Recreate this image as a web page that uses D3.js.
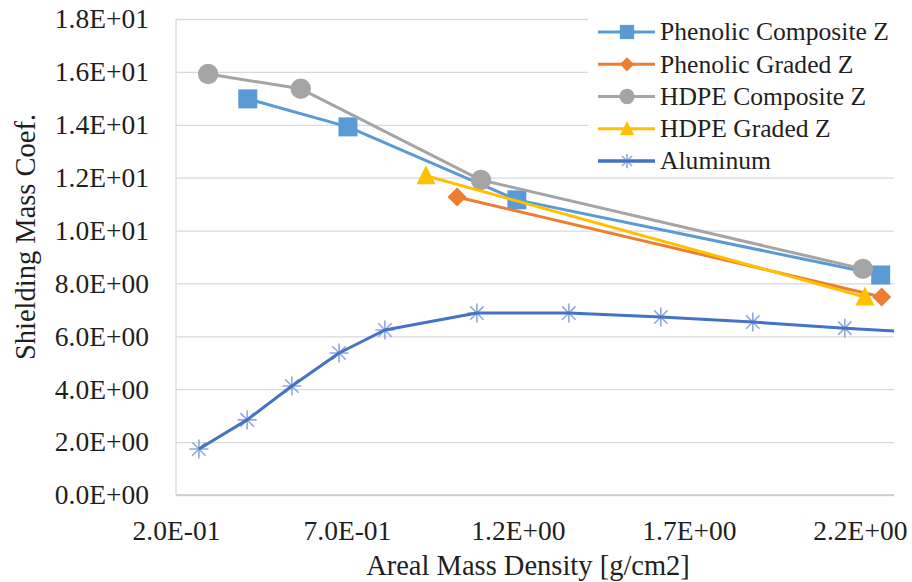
<!DOCTYPE html>
<html>
<head>
<meta charset="utf-8">
<script src="https://cdn.jsdelivr.net/npm/d3@7/dist/d3.min.js"></script>
<style>
  html, body { margin: 0; padding: 0; background: #fff; }
  svg { display: block; }
</style>
</head>
<body>
<svg id="chart" width="912" height="582"></svg>
<script>
// Tick values on both axes
const xTicks = [0.2, 0.7, 1.2, 1.7, 2.2];
const yTicks = [0, 2, 4, 6, 8, 10, 12, 14, 16, 18];

// Series data: areal mass density [g/cm2] and shielding mass coefficient
const phenolicCompositeX = [0.41, 0.703, 1.197, 2.261];
const phenolicCompositeY = [14.98, 13.92, 11.16, 8.32];

const phenolicGradedX = [1.022, 2.264];
const phenolicGradedY = [11.27, 7.49];

const hdpeCompositeX = [0.294, 0.565, 1.092, 2.209];
const hdpeCompositeY = [15.92, 15.36, 11.91, 8.55];

const hdpeGradedX = [0.931, 2.215];
const hdpeGradedY = [12.07, 7.49];

const aluminumX = [0.267, 0.408, 0.539, 0.677, 0.811, 1.08, 1.349, 1.618, 1.887, 2.156, 2.425];
const aluminumY = [1.74, 2.84, 4.12, 5.37, 6.24, 6.88, 6.88, 6.73, 6.54, 6.31, 6.10];

const seriesNames = ["Phenolic Composite Z", "Phenolic Graded Z", "HDPE Composite Z", "HDPE Graded Z", "Aluminum"];

const series = [
  { name: seriesNames[0], xs: phenolicCompositeX, ys: phenolicCompositeY, color: "#5B9BD5", marker: "square" },
  { name: seriesNames[1], xs: phenolicGradedX, ys: phenolicGradedY, color: "#ED7D31", marker: "diamond" },
  { name: seriesNames[2], xs: hdpeCompositeX, ys: hdpeCompositeY, color: "#A5A5A5", marker: "circle" },
  { name: seriesNames[3], xs: hdpeGradedX, ys: hdpeGradedY, color: "#FFC000", marker: "triangle" },
  { name: seriesNames[4], xs: aluminumX, ys: aluminumY, color: "#4472C4", marker: "star", markerColor: "#8FAADC" }
];

const FONT = "Liberation Serif";
const INK = "#1f1f1f";

const svg = d3.select("#chart");
const margin = { left: 176, right: 18, top: 19, bottom: 87 };
const W = 912, H = 582;
const plotW = W - margin.left - margin.right;
const plotH = H - margin.top - margin.bottom;

const x = d3.scaleLinear().domain([0.2, 2.3]).range([margin.left, margin.left + plotW]);
const y = d3.scaleLinear().domain([0, 18]).range([margin.top + plotH, margin.top]);

// Scientific labels in the form 1.8E+01
function sci(v) {
  const s = v.toExponential(1);
  const [m, e] = s.split("e");
  const n = parseInt(e, 10);
  const sign = n < 0 ? "-" : "+";
  return m + "E" + sign + String(Math.abs(n)).padStart(2, "0");
}

function styleText(sel, size) {
  sel.attr("font-family", FONT)
    .style("font-family", FONT)
    .style("font-size", size + "px")
    .attr("fill", INK);
}

// Horizontal gridlines
svg.append("g")
  .attr("transform", `translate(${margin.left},0)`)
  .call(d3.axisLeft(y).tickValues(yTicks).tickSize(-plotW).tickFormat(""))
  .call(g => g.select(".domain").remove())
  .call(g => g.selectAll("line").attr("stroke", "#D9D9D9").attr("stroke-width", 1.3));

// Left edge line
svg.append("line")
  .attr("x1", margin.left).attr("x2", margin.left)
  .attr("y1", y(18)).attr("y2", y(0))
  .attr("stroke", "#D9D9D9").attr("stroke-width", 1.3);

// Bottom axis line
svg.append("line")
  .attr("x1", margin.left).attr("x2", margin.left + plotW)
  .attr("y1", y(0)).attr("y2", y(0))
  .attr("stroke", "#C8C8C8").attr("stroke-width", 1.3);

// Y tick labels
const yAxis = svg.append("g")
  .attr("transform", `translate(${margin.left},0)`)
  .attr("font-family", FONT)
  .call(d3.axisLeft(y).tickValues(yTicks).tickSize(0).tickPadding(27).tickFormat(sci));
yAxis.select(".domain").remove();
yAxis.selectAll("text").call(styleText, 27.5);

// X tick labels
const xAxis = svg.append("g")
  .attr("transform", `translate(0,${y(0)})`)
  .attr("font-family", FONT)
  .call(d3.axisBottom(x).tickValues(xTicks).tickSize(0).tickPadding(25).tickFormat(sci));
xAxis.select(".domain").remove();
xAxis.selectAll("text").call(styleText, 27.5);

// Axis titles
svg.append("text")
  .attr("x", 528).attr("y", 575)
  .attr("text-anchor", "middle")
  .call(styleText, 28.5)
  .text("Areal Mass Density [g/cm2]");

svg.append("text")
  .attr("transform", "translate(35,237) rotate(-90)")
  .attr("text-anchor", "middle")
  .call(styleText, 28.5)
  .text("Shielding Mass Coef.");

// Clip lines to the plot area
svg.append("clipPath").attr("id", "plotClip")
  .append("rect")
  .attr("x", margin.left).attr("y", margin.top - 12)
  .attr("width", plotW).attr("height", plotH + 12);

// Marker drawing
function drawMarker(g, type, cx, cy, color, k, markerColor) {
  if (type === "square") {
    const s = 19 * k;
    g.append("rect").attr("x", cx - s / 2).attr("y", cy - s / 2).attr("width", s).attr("height", s).attr("fill", color);
  } else if (type === "circle") {
    g.append("circle").attr("cx", cx).attr("cy", cy).attr("r", 10.2 * k).attr("fill", color);
  } else if (type === "diamond") {
    const r = 9.5 * k;
    g.append("path").attr("d", `M${cx},${cy - r}L${cx + r},${cy}L${cx},${cy + r}L${cx - r},${cy}Z`).attr("fill", color);
  } else if (type === "triangle") {
    const w = 9.5 * k, h = 19 * k;
    g.append("path").attr("d", `M${cx},${cy - h * 0.55}L${cx + w},${cy + h * 0.45}L${cx - w},${cy + h * 0.45}Z`).attr("fill", color);
  } else if (type === "star") {
    const r = 9.5 * k;
    const d = r * Math.SQRT1_2;
    const c = markerColor || color;
    const p = `M${cx - r},${cy}L${cx + r},${cy}M${cx},${cy - r}L${cx},${cy + r}` +
              `M${cx - d},${cy - d}L${cx + d},${cy + d}M${cx - d},${cy + d}L${cx + d},${cy - d}`;
    g.append("path").attr("d", p).attr("stroke", c).attr("stroke-width", 1.6).attr("fill", "none");
  }
}

const line = d3.line().x(d => x(d[0])).y(d => y(d[1]));

series.forEach(s => {
  const pts = s.xs.map((v, i) => [v, s.ys[i]]);
  const g = svg.append("g");
  const inside = pts.filter(p => p[0] >= x.domain()[0] && p[0] <= x.domain()[1]);
  const drawLine = () => g.append("path").datum(pts).attr("d", line).attr("fill", "none")
    .attr("stroke", s.color).attr("stroke-width", 3).attr("stroke-linejoin", "round")
    .attr("clip-path", "url(#plotClip)");
  if (s.marker === "star") {
    inside.forEach(p => drawMarker(g, s.marker, x(p[0]), y(p[1]), s.color, 1, s.markerColor));
    drawLine();
  } else {
    drawLine();
    inside.forEach(p => drawMarker(g, s.marker, x(p[0]), y(p[1]), s.color, 1));
  }
});

// Legend
const legend = svg.append("g");
legend.append("rect")
  .attr("x", 588).attr("y", 4).attr("width", 318).attr("height", 168)
  .attr("fill", "#fff");
const rowY = d3.scaleLinear().domain([0, 4]).range([32, 161]);
series.forEach((s, i) => {
  const cy = rowY(i);
  const g = legend.append("g");
  g.append("line").attr("x1", 598).attr("x2", 655).attr("y1", cy).attr("y2", cy)
    .attr("stroke", s.color).attr("stroke-width", 3);
  drawMarker(g, s.marker, 627, cy, s.color, 0.75, s.markerColor);
  if (s.marker === "star") {
    g.append("line").attr("x1", 598).attr("x2", 655).attr("y1", cy).attr("y2", cy)
      .attr("stroke", s.color).attr("stroke-width", 3);
  }
  g.append("text").attr("x", 660).attr("y", cy).attr("dy", "0.33em")
    .call(styleText, 25.6)
    .text(s.name);
});
</script>
</body>
</html>
